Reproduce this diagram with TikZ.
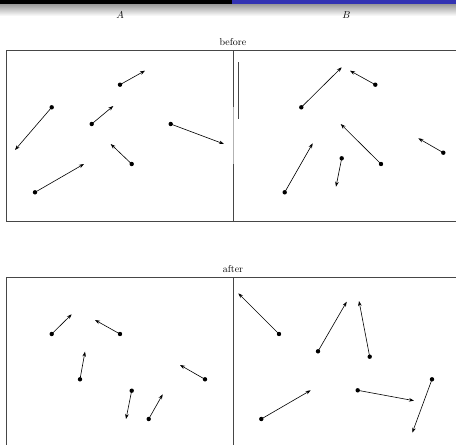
\documentclass[tikz,border=0pt]{standalone}
\usetikzlibrary{arrows.meta}
\definecolor{barblue}{RGB}{51,51,179}
\definecolor{framegray}{RGB}{70,70,70}
\begin{document}
\begin{tikzpicture}[x=1pt,y=-1pt,
  dot/.style={circle,fill=black,inner sep=0pt,minimum size=4.4pt},
  vec/.style={line width=0.6pt,-{Stealth[length=5pt,width=3.6pt]}},
  frame/.style={draw=framegray,line width=0.8pt},
  lbl/.style={inner sep=0pt,font=\normalsize}]
\useasboundingbox (0,0) rectangle (456,445);
\clip (0,0) rectangle (456,445);
% headline
\fill[black] (0,0) rectangle (232,4);
\fill[barblue] (232,0) rectangle (456,4);
\shade[top color=black!40,bottom color=white] (0,4) rectangle (456,16);
\node[lbl] (labA) at (120,15) {$A$};
\node[lbl] (labB) at (346.5,15) {$B$};
% before
\node[lbl] (tbefore) at (233,42.5) {before};
\draw[frame] (6,221) -- (6,50.3) -- (470,50.3);
\draw[frame] (6,221) -- (470,221);
\draw[frame] (233,50.3) -- (233,107);
\draw[draw=black!30,line width=0.8pt] (233,107) -- (233,164.3);
\draw[frame] (233,164.3) -- (233,221);
\draw[frame] (238.3,62) -- (238.3,119);
% before A
\node[dot] (a1) at (51.7,107.3) {}; \coordinate (a1e) at (15,150);
\node[dot] (a2) at (120,84.7) {};   \coordinate (a2e) at (145,70.7);
\node[dot] (a3) at (91.7,124) {};   \coordinate (a3e) at (113.3,106);
\node[dot] (a4) at (131.7,164) {};  \coordinate (a4e) at (110.7,144);
\node[dot] (a5) at (170.7,124) {};  \coordinate (a5e) at (224,144);
\node[dot] (a6) at (35,192.3) {};   \coordinate (a6e) at (84,164);
% before B
\node[dot] (b1) at (301.3,107.3) {}; \coordinate (b1e) at (341.7,67.3);
\node[dot] (b2) at (375.3,84.7) {};  \coordinate (b2e) at (350,70.7);
\node[dot] (b3) at (381,164) {};     \coordinate (b3e) at (340.7,124);
\node[dot] (b4) at (443.3,152.7) {}; \coordinate (b4e) at (418.3,138.3);
\node[dot] (b5) at (341.7,158.3) {}; \coordinate (b5e) at (336,186.7);
\node[dot] (b6) at (284.7,192.3) {}; \coordinate (b6e) at (312.7,143.3);
\foreach \n in {a1,a2,a3,a4,a5,a6,b1,b2,b3,b4,b5,b6}
  \draw[vec] (\n.center) -- (\n e);
% after
\node[lbl] (tafter) at (233,269.5) {after};
\draw[frame] (6,470) -- (6,277.7) -- (470,277.7);
\draw[frame] (233,277.7) -- (233,470);
% after A
\node[dot] (c1) at (51.7,334) {};   \coordinate (c1e) at (71.7,314.3);
\node[dot] (c2) at (120,334) {};    \coordinate (c2e) at (95,320);
\node[dot] (c3) at (80,379.3) {};   \coordinate (c3e) at (85,351.7);
\node[dot] (c4) at (131.7,390.7) {};\coordinate (c4e) at (126,419);
\node[dot] (c5) at (148.7,419) {};  \coordinate (c5e) at (162.7,394.3);
\node[dot] (c6) at (205,379.3) {};  \coordinate (c6e) at (180,365);
% after B
\node[dot] (d1) at (279,334) {};    \coordinate (d1e) at (238.3,293.3);
\node[dot] (d2) at (318,351.3) {};  \coordinate (d2e) at (346.7,301.7);
\node[dot] (d3) at (369.7,356.7) {};\coordinate (d3e) at (359,301);
\node[dot] (d4) at (432,379.3) {};  \coordinate (d4e) at (412.3,432.7);
\node[dot] (d5) at (357.7,390.3) {};\coordinate (d5e) at (414,400.7);
\node[dot] (d6) at (261.3,419) {};  \coordinate (d6e) at (310.7,390.3);
\foreach \n in {c1,c2,c3,c4,c5,c6,d1,d2,d3,d4,d5,d6}
  \draw[vec] (\n.center) -- (\n e);
\end{tikzpicture}
\end{document}
